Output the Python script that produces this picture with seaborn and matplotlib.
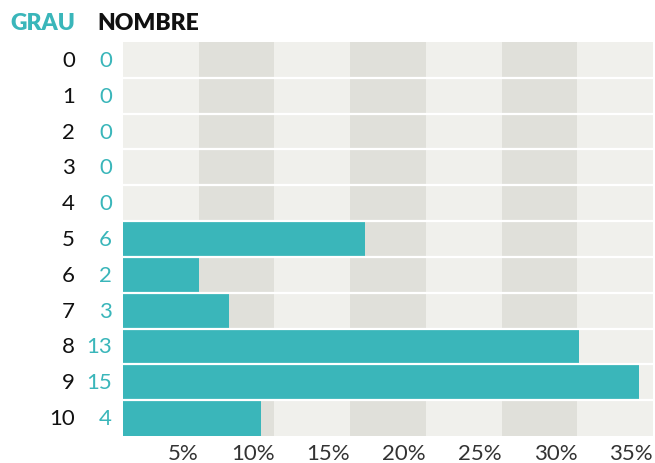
import matplotlib

matplotlib.use("Agg")
import matplotlib.pyplot as plt
import matplotlib.transforms as mtransforms
import seaborn as sns

# data
grau = ["0", "1", "2", "3", "4", "5", "6", "7", "8", "9", "10"]
nombre = [0, 0, 0, 0, 0, 6, 2, 3, 13, 15, 4]
pct = [0, 0, 0, 0, 0, 16.0, 5.0, 7.0, 30.1, 34.1, 9.1]
xticks = [5, 10, 15, 20, 25, 30, 35]

TEAL = "#3ab6ba"
LIGHT = "#f0f0ec"
DARK = "#e0e0da"
INK = "#111111"

sns.set_theme(style="white")
plt.rcParams["font.family"] = ["Lato", "DejaVu Sans"]

W, H = 655, 464
fig = plt.figure(figsize=(W / 100, H / 100), dpi=100)
ax = fig.add_axes([123 / W, 1 - 437 / H, 530 / W, 394 / H])
ax.set_facecolor(LIGHT)

# alternating 5% bands behind the bars
for i, lo in enumerate(range(0, 35, 5)):
    ax.axvspan(lo, lo + 5, color=DARK if i % 2 else LIGHT, zorder=0, lw=0)

sns.barplot(x=pct, y=grau, orient="h", color=TEAL, saturation=1, width=1.0,
            ax=ax, zorder=2, linewidth=0)

for i in range(len(grau) - 1):
    ax.axhline(i + 0.5, color="white", lw=1.6, zorder=3)

ax.set_xlim(0, 35)
ax.set_ylim(len(grau) - 0.5, -0.5)
for s in ax.spines.values():
    s.set_visible(False)

ax.set_xticks(xticks)
ax.set_xticklabels([f"{t}%" for t in xticks], ha="right", fontsize=16,
                   color="#333333")
ax.tick_params(axis="x", length=0, pad=5)
ax.set_yticks([])
ax.set_xlabel("")
ax.set_ylabel("")

# row labels in two columns left of the plot
trans = mtransforms.blended_transform_factory(fig.transFigure, ax.transData)
for i, (g, n) in enumerate(zip(grau, nombre)):
    ax.text(75 / W, i, g, transform=trans, ha="right", va="center",
            fontsize=16, color=INK)
    ax.text(112 / W, i, str(n), transform=trans, ha="right", va="center",
            fontsize=16, color=TEAL)

fig.text(10 / W, 1 - 23 / H, "GRAU", ha="left", va="center", fontsize=16.5,
         fontweight="heavy", color=TEAL)
fig.text(97 / W, 1 - 23 / H, "NOMBRE", ha="left", va="center", fontsize=16.5,
         fontweight="heavy", color=INK)

fig.savefig("out.png", dpi=100)
